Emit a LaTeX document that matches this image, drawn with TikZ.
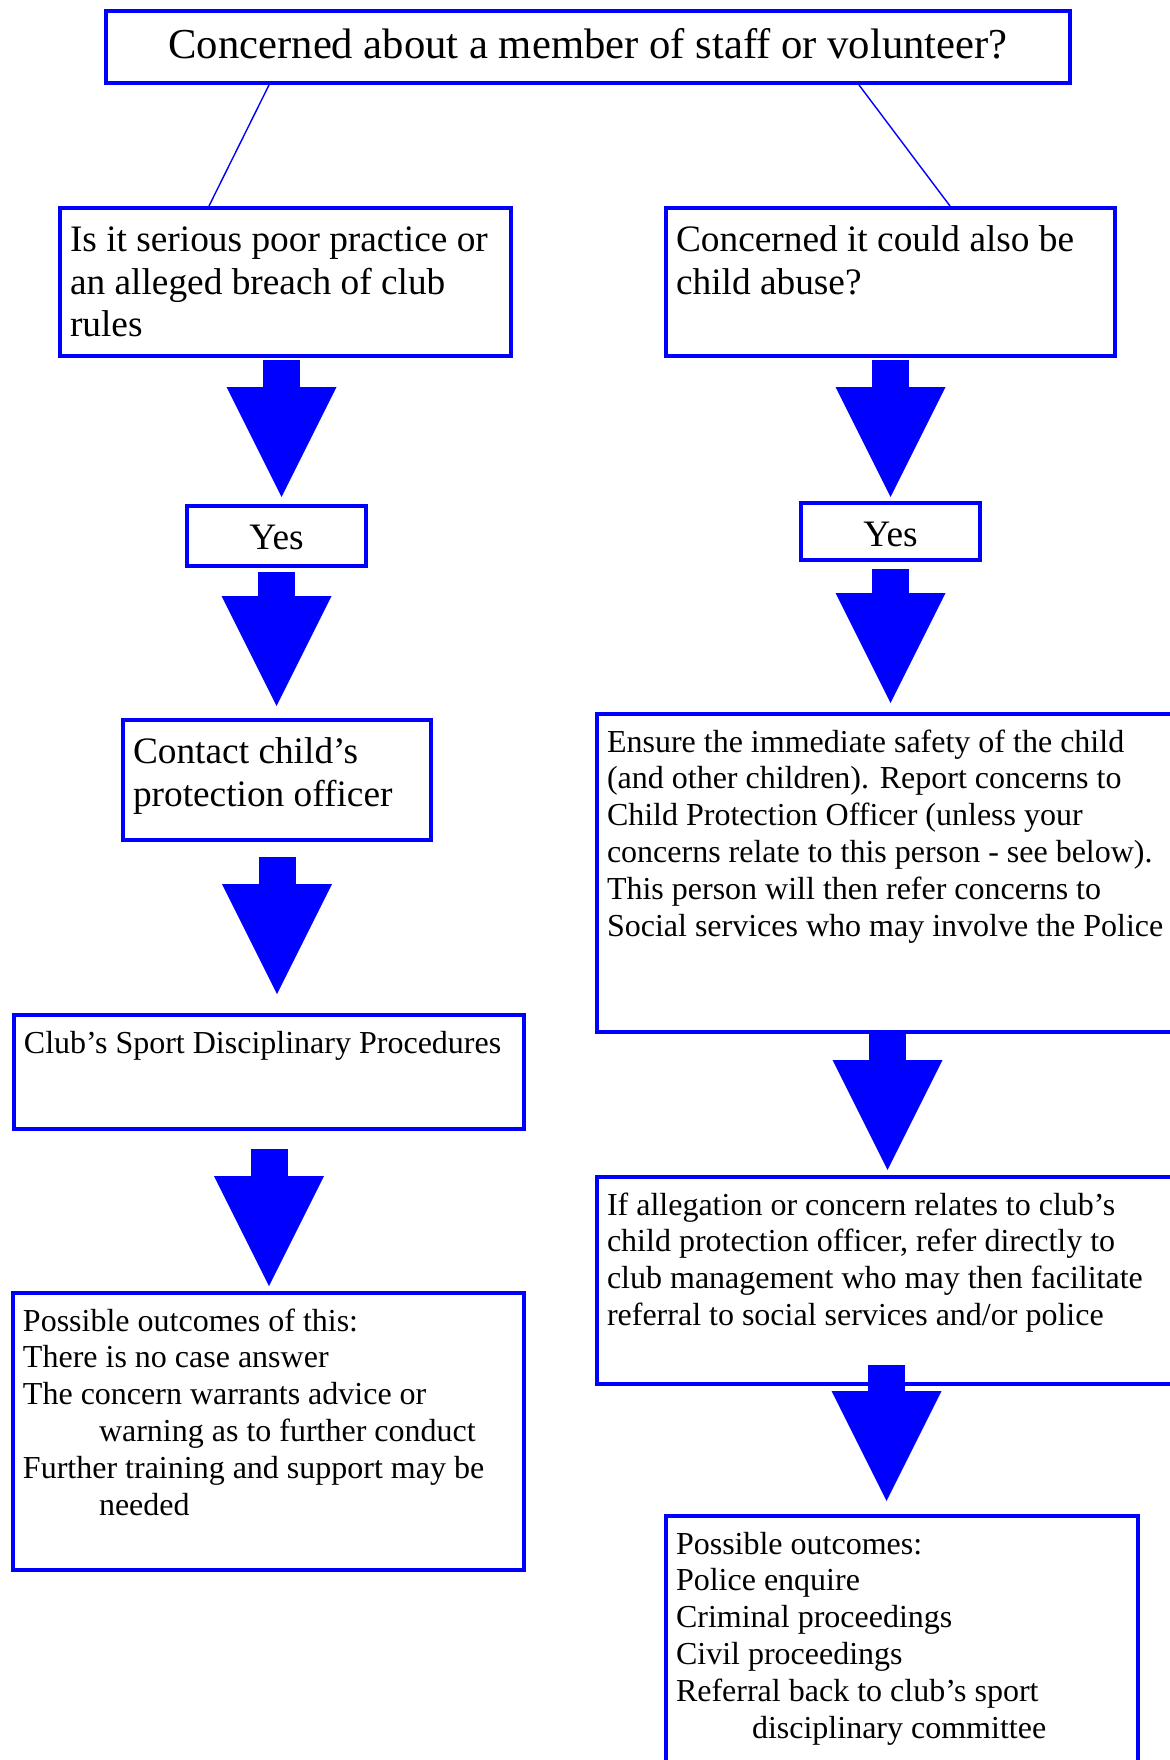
\documentclass[tikz,border=0pt]{standalone}
\usepackage{fontspec}
\setmainfont{Liberation Serif}
\usetikzlibrary{arrows.meta}
\definecolor{flowblue}{RGB}{0,0,255}
\newcommand{\boxtext}[4]{\parbox[t][#2][t]{#1}{\rule{0pt}{#3}#4}}
\tikzset{
  box/.style={draw=flowblue, line width=2pt, inner xsep=5pt, inner ysep=0pt, anchor=north west},
  bigfont/.style={font=\fontsize{21.33}{24.5}\selectfont},
  midfont/.style={font=\fontsize{18.67}{21.5}\selectfont},
  smallfont/.style={font=\fontsize{16}{18.4}\selectfont},
  thinline/.style={draw=flowblue, line width=0.7pt},
  blockarrow/.style={draw=flowblue, line width=18.5pt, -{Triangle[width=55pt,length=55pt,line width=0pt]}}
}

\begin{document}
\begin{tikzpicture}[x=0.5pt,y=-0.5pt]
\useasboundingbox (0,0) rectangle (1170,1760);
\clip (0,0) rectangle (1170,1760);
\node[box, bigfont] (concern) at (104,9) {\boxtext{472pt}{36pt}{24pt}{\centering Concerned about a member of staff or volunteer?}};
\node[box, midfont] (poor) at (58,206) {\boxtext{215.5pt}{74pt}{21.5pt}{Is it serious poor practice or\\an alleged breach of club\\rules}};
\node[box, midfont] (abuse) at (664,206) {\boxtext{214.5pt}{74pt}{21.5pt}{Concerned it could also be\\child abuse?}};
\node[box, midfont] (yes1) at (185,504) {\boxtext{79.5pt}{30pt}{21.5pt}{\centering Yes}};
\node[box, midfont] (yes2) at (799,501) {\boxtext{79.5pt}{28.5pt}{21.5pt}{\centering Yes}};
\node[box, midfont] (contact) at (121,718) {\boxtext{144pt}{60pt}{21.5pt}{Contact child’s\\protection officer}};
\node[box, smallfont] (club) at (12,1013) {\boxtext{245pt}{57pt}{19pt}{Club’s Sport Disciplinary Procedures}};
\node[box, smallfont] (out1) at (11,1291) {\boxtext{245.5pt}{138.5pt}{19pt}{Possible outcomes of this:\\There is no case answer\\The concern warrants advice or\\\hspace*{38pt}warning as to further conduct\\Further training and support may be\\\hspace*{38pt}needed}};
\node[box, smallfont] (ensure) at (595,712) {\boxtext{292.5pt}{159pt}{19pt}{Ensure the immediate safety of the child\\(and other children). Report concerns to\\Child Protection Officer (unless your\\concerns relate to this person - see below).\\This person will then refer concerns to\\Social services who may involve the Police}};
\node[box, smallfont] (refer) at (595,1175) {\boxtext{292.5pt}{103.5pt}{19pt}{If allegation or concern relates to club’s\\child protection officer, refer directly to\\club management who may then facilitate\\referral to social services and/or police}};
\node[box, smallfont] (out2) at (664,1514) {\boxtext{226pt}{150pt}{19pt}{Possible outcomes:\\Police enquire\\Criminal proceedings\\Civil proceedings\\Referral back to club’s sport\\\hspace*{38pt}disciplinary committee}};

\draw[thinline] ([xshift=82.5pt]concern.south west) -- ([xshift=75.5pt]poor.north west);
\draw[thinline] ([xshift=377.5pt]concern.south west) -- ([xshift=143pt]abuse.north west);

\coordinate (a1) at ([xshift=2.5pt]yes1.north);
\coordinate (r3) at ([xshift=-1.5pt]yes2.south);
\coordinate (r4) at ([xshift=-2pt]yes2.south);
\draw[blockarrow, shorten <=1pt, shorten >=3.5pt] (a1 |- poor.south) -- (a1);
\draw[blockarrow, shorten <=2pt, shorten >=6pt] (yes1.south) -- (yes1.south |- contact.north);
\draw[blockarrow, shorten <=7.5pt, shorten >=9.5pt] (contact.south) -- (contact.south |- club.north);
\draw[blockarrow, shorten <=9pt, shorten >=2.5pt] (club.south) -- (club.south |- out1.north);
\draw[blockarrow, shorten <=1pt, shorten >=2pt] (abuse.south) -- (abuse.south |- yes2.north);
\draw[blockarrow, shorten <=3.5pt, shorten >=4.5pt] (yes2.south) -- (yes2.south |- ensure.north);
\draw[blockarrow, shorten >=2.5pt] (r3 |- ensure.south) -- (r3 |- refer.north);
\draw[blockarrow, shorten <=-10.5pt, shorten >=6.5pt] (r4 |- refer.south) -- (r4 |- out2.north);
\end{tikzpicture}
\end{document}
